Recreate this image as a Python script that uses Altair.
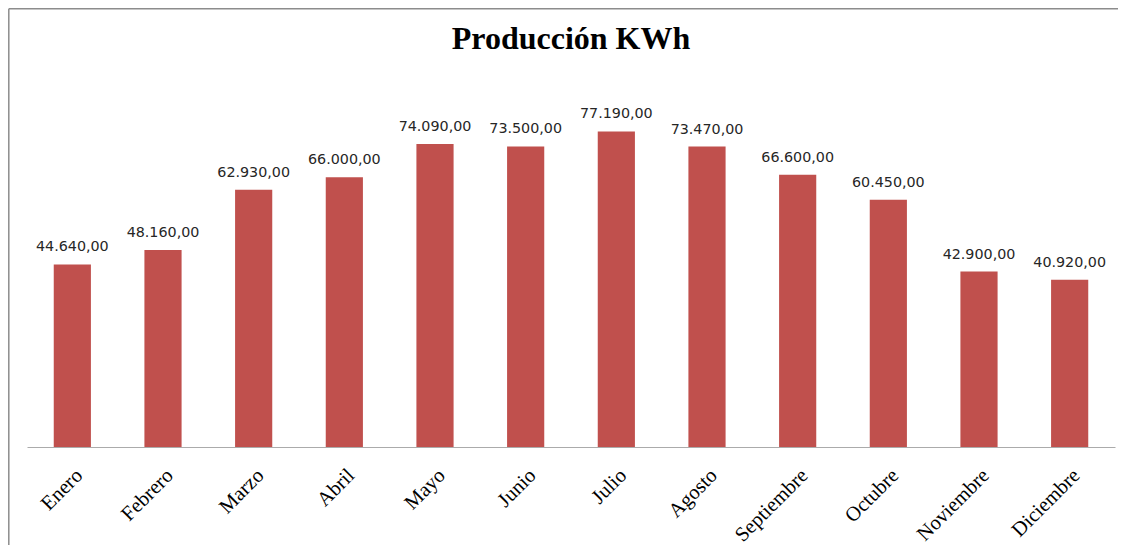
import altair as alt
import pandas as pd

months = ["Enero", "Febrero", "Marzo", "Abril", "Mayo", "Junio", "Julio",
          "Agosto", "Septiembre", "Octubre", "Noviembre", "Diciembre"]
values = [44640, 48160, 62930, 66000, 74090, 73500, 77190,
          73470, 66600, 60450, 42900, 40920]


def fmt(v):
    s = f"{v:,.2f}"
    return s.replace(",", "X").replace(".", ",").replace("X", ".")


df = pd.DataFrame({"mes": months, "kwh": values, "label": [fmt(v) for v in values]})

W, H = 1088, 368

x = alt.X("mes:N", sort=months, title=None,
          scale=alt.Scale(paddingInner=0.59),
          axis=alt.Axis(labelAngle=-45, labelFont="Liberation Serif", labelFontSize=20.5,
                        labelColor="#000000", ticks=False, domainColor="#ABABAB",
                        domainWidth=1, labelPadding=18, labelOverlap=False))
y = alt.Y("kwh:Q", title=None, axis=None, scale=alt.Scale(domain=[0, 90000]))

bars = alt.Chart(df).mark_bar(color="#C0504D").encode(x=x, y=y)
labels = alt.Chart(df).mark_text(font="DejaVu Sans", fontSize=14.3, color="#262626",
                                 baseline="alphabetic", dy=-13).encode(x=x, y=y, text="label:N")

one = pd.DataFrame({"t": ["Producción KWh"]})
title = alt.Chart(one).mark_text(font="Liberation Serif", fontSize=32, fontWeight="bold",
                                 color="#000000", baseline="alphabetic", align="center").encode(
    x=alt.value(W / 2), y=alt.value(-30), text="t:N")
top_border = alt.Chart(one).mark_rule(stroke="#8C8C8C", strokeWidth=1.5).encode(
    x=alt.value(-18.2), x2=alt.value(W + 3), y=alt.value(-70.2))
left_border = alt.Chart(one).mark_rule(stroke="#8C8C8C", strokeWidth=1.5).encode(
    x=alt.value(-18.2), y=alt.value(-70.2), y2=alt.value(H + 98))

chart = alt.layer(top_border, left_border, bars, labels, title).properties(
    width=W, height=H,
    autosize=alt.AutoSizeParams(type="none"),
    padding={"left": 19, "top": 71, "right": 3, "bottom": 98},
).configure_view(stroke=None)

chart.save("out.html", embed_options={"renderer": "svg", "actions": False})
